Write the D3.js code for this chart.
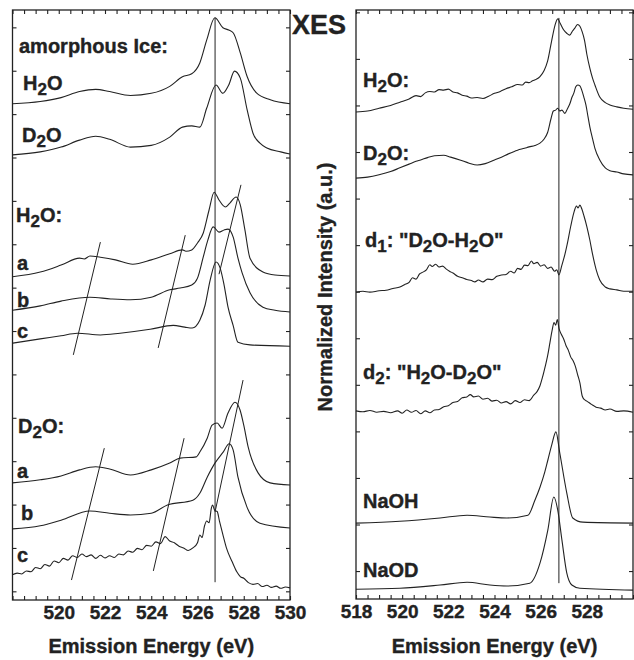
<!DOCTYPE html>
<html>
<head>
<meta charset="utf-8">
<script src="https://cdn.jsdelivr.net/npm/d3@7.9.0/dist/d3.min.js"></script>
<style>
  body { margin: 0; background: #fff; }
  svg text { font-family: "Liberation Sans", Arial, sans-serif; font-weight: 700; fill: #222; stroke: #222; stroke-width: 0.35px; }
</style>
</head>
<body>
<svg id="chart" width="634" height="660"></svg>
<script>
// energy axis and tick labels
const energyDomain = [518, 530];
const leftTickLabels = [520, 522, 524, 526, 528, 530];
const rightTickLabels = [518, 520, 522, 524, 526, 528];

// left panel spectra: [emission energy (eV), offset intensity]
const amorphH2O = [[518.0,11.24],[519.2,11.29],[520.1,11.38],[520.9,11.52],[521.6,11.57],[522.2,11.52],[523.1,11.43],[524.0,11.48],[524.8,11.64],[525.35,11.86],[525.75,11.93],[526.1,12.18],[526.4,12.71],[526.75,13.22],[527.1,12.99],[527.35,12.94],[527.55,12.87],[527.85,12.41],[528.15,11.86],[528.55,11.49],[529.15,11.33],[530.0,11.24]];
const amorphD2O = [[518.0,10.06],[519.2,10.13],[520.1,10.24],[520.9,10.40],[521.6,10.49],[522.2,10.42],[523.1,10.24],[524.0,10.28],[524.8,10.47],[525.35,10.70],[525.75,10.73],[526.1,10.70],[526.4,11.14],[526.8,11.67],[527.1,11.48],[527.35,11.67],[527.6,11.99],[527.85,11.83],[528.15,11.09],[528.4,10.56],[528.7,10.33],[529.0,10.22],[529.6,10.13],[530.0,10.08]];
const h2oA = [[518.0,7.25],[519.2,7.36],[520.1,7.52],[520.9,7.68],[521.1,7.66],[521.35,7.73],[521.8,7.70],[522.45,7.64],[523.2,7.54],[524.0,7.64],[524.8,7.78],[525.35,7.87],[525.5,7.84],[525.75,7.87],[526.0,8.03],[526.25,8.26],[526.5,8.79],[526.72,9.20],[526.93,9.02],[527.2,8.86],[527.4,8.95],[527.67,9.09],[527.85,8.91],[528.05,8.33],[528.27,7.68],[528.83,7.36],[529.35,7.29],[530.0,7.27]];
const h2oB = [[518.0,6.48],[519.2,6.58],[520.1,6.69],[521.35,6.78],[522.25,6.74],[523.1,6.72],[524.0,6.78],[524.8,6.95],[525.25,6.99],[525.75,7.06],[526.0,7.22],[526.25,7.71],[526.45,8.10],[526.68,8.40],[526.93,8.28],[527.15,8.33],[527.32,8.35],[527.54,8.17],[527.75,7.68],[527.93,7.34],[528.27,6.88],[528.83,6.55],[529.35,6.48],[530.0,6.44]];
const h2oC = [[518.0,5.72],[519.2,5.82],[520.1,5.89],[520.8,5.95],[521.8,5.91],[522.65,5.95],[523.95,6.04],[524.95,6.13],[525.45,6.09],[525.77,6.07],[526.1,6.25],[526.33,6.60],[526.55,7.18],[526.8,7.59],[526.98,7.45],[527.15,7.06],[527.32,6.55],[527.54,6.13],[527.75,5.74],[528.27,5.68],[530.0,5.65]];
const d2oA = [[518.0,2.50],[519.2,2.57],[520.1,2.66],[520.9,2.80],[521.6,2.87],[522.2,2.82],[523.1,2.68],[524.0,2.80],[524.8,2.96],[525.25,3.07],[525.95,3.10],[526.1,3.21],[526.42,3.53],[526.63,3.83],[526.85,3.88],[527.06,3.76],[527.32,4.11],[527.62,4.36],[527.84,4.18],[528.0,3.83],[528.19,3.33],[528.62,2.73],[529.14,2.50],[530.0,2.45]];
const d2oB = [[518.0,1.44],[519.2,1.51],[520.1,1.64],[521.35,1.85],[522.2,1.80],[523.1,1.76],[524.0,1.80],[524.7,1.99],[525.8,2.10],[526.1,2.26],[526.42,2.63],[526.76,2.96],[527.11,3.21],[527.37,3.40],[527.54,3.26],[527.75,2.63],[528.14,1.94],[528.7,1.57],[530.0,1.46]];
const d2oC = [[518.0,0.38],[518.2,0.42],[518.4,0.40],[518.6,0.47],[518.8,0.45],[519.0,0.55],[519.2,0.52],[519.4,0.62],[519.6,0.58],[519.8,0.70],[520.0,0.66],[520.2,0.76],[520.4,0.72],[520.6,0.82],[520.8,0.78],[521.0,0.86],[521.2,0.80],[521.4,0.84],[521.6,0.76],[521.8,0.83],[522.0,0.77],[522.2,0.82],[522.4,0.78],[522.6,0.86],[522.8,0.84],[523.0,0.93],[523.2,0.90],[523.4,0.99],[523.6,0.96],[523.8,1.06],[524.0,1.04],[524.2,1.14],[524.4,1.10],[524.6,1.26],[524.8,1.16],[525.0,1.12],[525.2,1.04],[525.4,1.00],[525.6,0.94],[525.8,1.00],[526.0,1.12],[526.1,1.30],[526.2,1.24],[526.3,1.50],[526.4,1.62],[526.5,1.58],[526.6,1.92],[526.65,1.99],[526.75,1.86],[526.85,1.84],[526.95,1.62],[527.1,1.30],[527.25,1.00],[527.5,0.68],[527.7,0.45],[527.85,0.34],[528.0,0.30],[528.2,0.20],[528.4,0.16],[528.6,0.18],[528.8,0.11],[529.0,0.14],[529.2,0.09],[529.4,0.12],[529.6,0.07],[529.8,0.10],[530.0,0.08]];

// right panel spectra
const liqH2O = [[518.0,9.86],[518.5,9.88],[519.0,9.94],[519.5,10.00],[519.9,10.07],[520.3,10.14],[520.6,10.21],[520.8,10.19],[521.0,10.27],[521.2,10.30],[521.4,10.29],[521.6,10.34],[521.8,10.33],[522.0,10.35],[522.2,10.29],[522.4,10.27],[522.6,10.22],[522.8,10.20],[523.0,10.16],[523.25,10.17],[523.5,10.15],[523.75,10.20],[524.0,10.26],[524.25,10.30],[524.5,10.36],[524.75,10.40],[525.0,10.45],[525.2,10.44],[525.35,10.50],[525.5,10.49],[525.65,10.53],[525.8,10.56],[525.97,10.62],[526.15,10.75],[526.3,10.95],[526.48,11.40],[526.62,11.72],[526.74,11.86],[526.85,11.76],[527.0,11.62],[527.13,11.55],[527.26,11.51],[527.38,11.60],[527.48,11.66],[527.6,11.74],[527.7,11.70],[527.8,11.58],[527.9,11.40],[528.0,11.10],[528.13,10.80],[528.25,10.58],[528.35,10.44],[528.56,10.18],[528.8,10.06],[529.0,10.01],[529.3,9.97],[529.6,9.94],[530.0,9.92]];
const liqD2O = [[518.0,8.44],[518.5,8.46],[519.0,8.51],[519.5,8.58],[519.9,8.66],[520.3,8.74],[520.6,8.80],[520.8,8.83],[521.1,8.88],[521.4,8.92],[521.8,8.93],[522.1,8.89],[522.5,8.83],[522.9,8.76],[523.25,8.72],[523.6,8.75],[524.0,8.83],[524.3,8.89],[524.6,8.96],[525.0,9.04],[525.3,9.08],[525.5,9.11],[525.75,9.14],[525.97,9.19],[526.15,9.28],[526.3,9.42],[526.45,9.72],[526.55,9.88],[526.65,9.90],[526.74,9.94],[526.83,9.88],[526.92,9.90],[527.05,9.83],[527.15,9.92],[527.26,10.03],[527.36,10.18],[527.44,10.27],[527.52,10.40],[527.61,10.44],[527.7,10.42],[527.78,10.33],[527.87,10.18],[527.96,10.01],[528.05,9.76],[528.13,9.54],[528.25,9.28],[528.35,9.08],[528.56,8.83],[528.8,8.66],[529.0,8.60],[529.3,8.57],[529.6,8.53],[530.0,8.51]];
const diff1 = [[518.0,5.99],[518.3,6.01],[518.6,5.99],[519.0,6.02],[519.3,6.03],[519.6,6.07],[519.9,6.10],[520.1,6.15],[520.3,6.20],[520.45,6.30],[520.6,6.27],[520.75,6.38],[520.9,6.42],[521.05,6.47],[521.2,6.58],[521.3,6.54],[521.45,6.59],[521.6,6.53],[521.75,6.55],[521.9,6.49],[522.05,6.44],[522.2,6.40],[522.4,6.33],[522.6,6.30],[522.8,6.26],[523.0,6.24],[523.15,6.21],[523.3,6.25],[523.5,6.21],[523.7,6.27],[523.9,6.26],[524.1,6.33],[524.3,6.36],[524.5,6.37],[524.7,6.44],[524.85,6.40],[525.0,6.50],[525.15,6.48],[525.3,6.57],[525.45,6.56],[525.6,6.66],[525.7,6.60],[525.85,6.63],[526.0,6.55],[526.15,6.58],[526.3,6.50],[526.45,6.53],[526.6,6.44],[526.7,6.47],[526.79,6.36],[526.92,6.57],[527.05,6.80],[527.15,7.02],[527.3,7.40],[527.45,7.72],[527.55,7.84],[527.62,7.80],[527.7,7.86],[527.78,7.78],[527.88,7.62],[528.0,7.40],[528.13,7.11],[528.25,6.80],[528.4,6.48],[528.56,6.25],[528.8,6.10],[529.0,6.06],[529.3,6.04],[529.6,6.01],[530.0,6.01]];
const diff2 = [[518.0,3.44],[518.3,3.42],[518.6,3.45],[518.9,3.41],[519.2,3.43],[519.5,3.40],[519.8,3.44],[520.0,3.39],[520.2,3.46],[520.4,3.41],[520.6,3.45],[520.8,3.38],[521.0,3.44],[521.2,3.40],[521.4,3.46],[521.6,3.47],[521.8,3.53],[522.0,3.55],[522.2,3.62],[522.4,3.64],[522.6,3.72],[522.8,3.74],[522.95,3.79],[523.1,3.74],[523.3,3.76],[523.5,3.69],[523.7,3.71],[523.9,3.65],[524.1,3.67],[524.3,3.61],[524.5,3.64],[524.7,3.59],[524.9,3.66],[525.1,3.62],[525.3,3.68],[525.5,3.66],[525.7,3.78],[525.85,3.86],[525.97,3.98],[526.1,4.20],[526.2,4.40],[526.3,4.62],[526.4,4.90],[526.5,5.18],[526.58,5.34],[526.65,5.28],[526.72,5.40],[526.8,5.20],[526.9,5.08],[527.0,4.98],[527.1,4.84],[527.2,4.74],[527.3,4.60],[527.4,4.52],[527.5,4.40],[527.6,4.22],[527.7,4.04],[527.8,3.76],[527.9,3.68],[528.0,3.65],[528.2,3.58],[528.4,3.52],[528.6,3.50],[528.8,3.46],[529.0,3.48],[529.3,3.43],[529.6,3.44],[530.0,3.41]];
const naOH = [[518.0,1.03],[519.9,1.07],[521.64,1.14],[522.81,1.20],[523.8,1.16],[524.54,1.14],[525.45,1.20],[525.75,1.52],[525.97,1.80],[526.18,2.13],[526.31,2.38],[526.48,2.71],[526.66,2.99],[526.83,2.53],[527.13,1.68],[527.39,1.14],[527.83,1.05],[530.0,1.03]];
const naOD = [[518.0,-0.39],[519.9,-0.37],[521.64,-0.30],[522.81,-0.24],[523.8,-0.30],[524.54,-0.32],[525.53,-0.26],[525.97,0.17],[526.31,0.88],[526.57,1.59],[526.74,1.31],[526.92,0.67],[527.13,-0.04],[527.35,-0.30],[527.7,-0.37],[530.0,-0.41]];

// guide lines through the features
const h2oGuides = [[[520.63,5.45],[521.80,8.05]], [[524.30,5.61],[525.47,8.21]], [[526.93,7.31],[527.88,9.37]]];
const d2oGuides = [[[520.55,0.26],[521.97,3.30]], [[524.09,0.47],[525.42,3.53]], [[526.76,1.83],[527.97,4.87]]];
const leftMarker = [[526.76,0.21],[526.76,13.22]];
const rightMarker = [[526.79,-0.26],[526.79,11.88]];

const svg = d3.select('#chart');
const ink = '#222';
const fontStack = '"Liberation Sans", Arial, sans-serif';

function makePanel(x0, x1, y0, y1, yDomain, yTicks, tickLabels) {
  const x = d3.scaleLinear().domain(energyDomain).range([x0, x1]);
  const y = d3.scaleLinear().domain(yDomain).range([y1, y0]);
  const g = svg.append('g');
  const minor = d3.range(518, 530.01, 0.5);

  g.append('g').attr('transform', `translate(0,${y1})`)
    .call(d3.axisBottom(x).tickValues(minor).tickSize(-4).tickFormat(''));
  g.append('g').attr('transform', `translate(0,${y0})`)
    .call(d3.axisTop(x).tickValues(minor).tickSize(-4).tickFormat(''));
  g.append('g').attr('transform', `translate(${x0},0)`)
    .call(d3.axisLeft(y).tickValues(yTicks).tickSize(-4).tickFormat(''));
  g.append('g').attr('transform', `translate(${x1},0)`)
    .call(d3.axisRight(y).tickValues(yTicks).tickSize(-4).tickFormat(''));
  g.append('g').attr('class', 'labels').attr('transform', `translate(0,${y1})`)
    .call(d3.axisBottom(x).tickValues(tickLabels).tickSize(0).tickPadding(6).tickFormat(d3.format('d')));

  g.selectAll('.domain').remove();
  g.selectAll('.tick line').attr('stroke', ink).attr('stroke-width', 1.1);
  g.selectAll('.labels text')
    .style('font-family', fontStack).style('font-weight', '700').style('font-size', '19px').attr('fill', ink);

  g.append('rect').attr('x', x0).attr('y', y0).attr('width', x1 - x0).attr('height', y1 - y0)
    .attr('fill', 'none').attr('stroke', ink).attr('stroke-width', 1.3);

  g.append('text').attr('x', (x0 + x1) / 2).attr('y', 653).attr('text-anchor', 'middle')
    .style('font-size', '20px').style('font-weight', '700').text('Emission Energy (eV)');
  return { x, y, g };
}

const L = makePanel(12.5, 290, 10, 600, [-0.2, 13.4], d3.range(0, 14), leftTickLabels);
const R = makePanel(356, 633, 10, 599, [-0.6, 12.05], d3.range(0, 13), rightTickLabels);

function draw(panel, data) {
  const line = d3.line().x(d => panel.x(d[0])).y(d => panel.y(d[1])).curve(d3.curveMonotoneX);
  panel.g.append('path').datum(data).attr('d', line)
    .attr('fill', 'none').attr('stroke', ink).attr('stroke-width', 1.1).attr('stroke-linejoin', 'round');
}
function straight(panel, data) {
  const line = d3.line().x(d => panel.x(d[0])).y(d => panel.y(d[1]));
  panel.g.append('path').datum(data).attr('d', line)
    .attr('fill', 'none').attr('stroke', ink).attr('stroke-width', 1);
}

[amorphH2O, amorphD2O, h2oA, h2oB, h2oC, d2oA, d2oB, d2oC].forEach(s => draw(L, s));
[liqH2O, liqD2O, diff1, diff2, naOH, naOD].forEach(s => draw(R, s));
h2oGuides.concat(d2oGuides).forEach(s => straight(L, s));
straight(L, leftMarker);
straight(R, rightMarker);

// text with subscripts: parts = [text, isSubscript]
function label(x, y, parts, size = 20) {
  const t = svg.append('text').attr('x', x).attr('y', y)
    .style('font-size', size + 'px').style('font-weight', '700');
  let prevSub = false;
  parts.forEach(([s, sub]) => {
    const ts = t.append('tspan').text(s);
    const dy = (sub ? 5 : 0) - (prevSub ? 5 : 0);
    if (dy) ts.attr('dy', dy);
    if (sub) ts.style('font-size', (size * 0.85) + 'px');
    prevSub = !!sub;
  });
}

label(19, 53, [['amorphous Ice:']]);
label(23, 90, [['H'], ['2', 1], ['O']]);
label(22, 142, [['D'], ['2', 1], ['O']]);
label(16, 222, [['H'], ['2', 1], ['O:']]);
label(17, 270, [['a']]);
label(17, 307, [['b']]);
label(17, 338, [['c']]);
label(18, 433, [['D'], ['2', 1], ['O:']]);
label(17, 478, [['a']]);
label(21, 520, [['b']]);
label(17, 562, [['c']]);

label(292, 34, [['XES']], 27);
label(363, 87, [['H'], ['2', 1], ['O:']]);
label(363, 160, [['D'], ['2', 1], ['O:']]);
label(365, 247, [['d'], ['1', 1], [': "D'], ['2', 1], ['O-H'], ['2', 1], ['O"']]);
label(363, 379, [['d'], ['2', 1], [': "H'], ['2', 1], ['O-D'], ['2', 1], ['O"']]);
label(363, 508, [['NaOH']]);
label(363, 577, [['NaOD']]);

svg.append('text').attr('transform', 'translate(332,287) rotate(-90)').attr('text-anchor', 'middle')
  .style('font-size', '20px').style('font-weight', '700').text('Normalized Intensity (a.u.)');
</script>
</body>
</html>
